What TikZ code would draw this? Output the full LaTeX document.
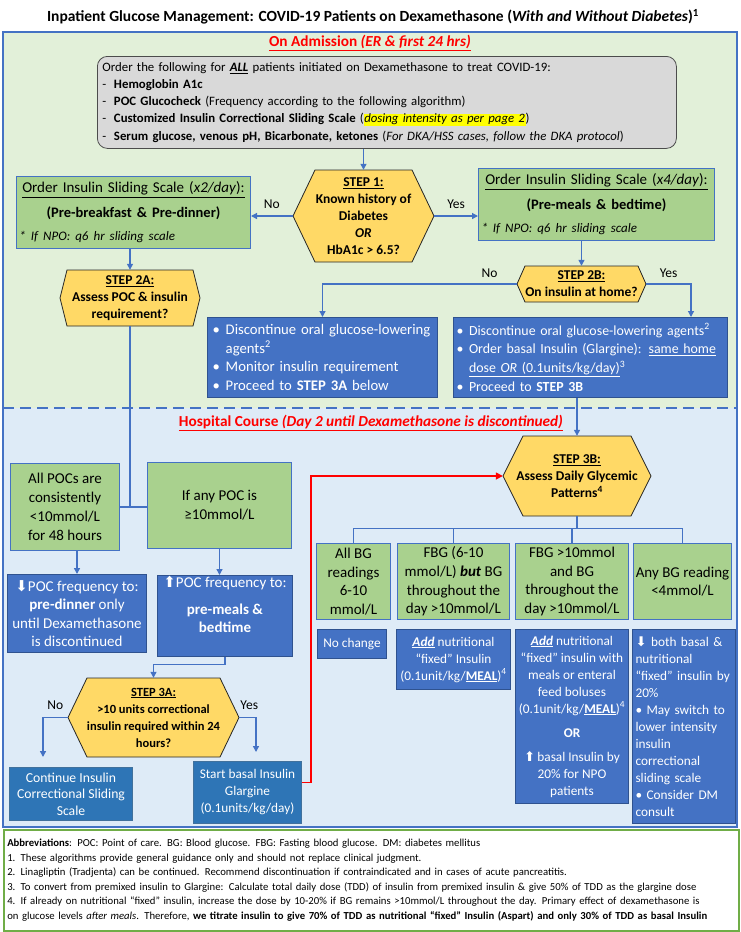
\documentclass[tikz,border=0pt]{standalone}
\usepackage{fontspec}
\setmainfont{Carlito}
\newfontfamily\symfont{DejaVu Sans}
\usetikzlibrary{arrows.meta}
\setlength{\fboxsep}{0.5pt}

\definecolor{edgeblue}{HTML}{4472C4}
\definecolor{admitgreen}{HTML}{E2F0D9}
\definecolor{coursebg}{HTML}{DEEBF7}
\definecolor{boxgreen}{HTML}{A9D18E}
\definecolor{stepyellow}{HTML}{FFD966}
\definecolor{ordergray}{HTML}{D9D9D9}
\definecolor{actionedge}{HTML}{2F528F}
\definecolor{steelblue}{HTML}{2E75B6}
\definecolor{steeledge}{HTML}{41719C}
\definecolor{notegreen}{HTML}{70AD47}
\definecolor{alertred}{HTML}{FF0000}
\definecolor{markyellow}{HTML}{FFFF00}

\tikzset{
  flow/.style={draw=edgeblue, line width=1.3pt, -{Triangle[length=6pt,width=6pt]}},
  link/.style={draw=edgeblue, line width=1.3pt},
  redflow/.style={draw=alertred, line width=1.6pt, -{Triangle[length=7pt,width=7pt]}},
  greenbox/.style={draw=edgeblue, fill=boxgreen, line width=1pt, inner sep=2pt, align=center},
  actionbox/.style={draw=actionedge, fill=edgeblue, text=white, line width=1pt, inner sep=3pt},
  steelbox/.style={draw=steeledge, fill=steelblue, text=white, line width=1pt, inner sep=2pt, align=center},
  orderbox/.style={draw=black!70, fill=ordergray, rounded corners=10pt, line width=0.8pt, align=left,
    inner xsep=5pt, inner ysep=3pt, font=\fontsize{12.8}{17.2}\selectfont},
  hexline/.style={draw=black!85, fill=stepyellow, line width=0.8pt},
  steptext/.style={align=center, inner sep=0pt, font=\fontsize{13.5}{17}\selectfont\bfseries},
  lbl/.style={font=\fontsize{13.5}{16}\selectfont},
  phase/.style={text=alertred, font=\fontsize{15.3}{18}\selectfont\bfseries},
  rowbox/.style={greenbox, anchor=north west, minimum height=76, inner ysep=0pt, font=\fontsize{15}{18.7}\selectfont},
  tipbox/.style={actionbox, anchor=north west, font=\fontsize{13.3}{17}\selectfont},
}

% hexagon step: [options], name, x, y, half width, half height, inset, text
\newcommand{\stephex}[8][]{%
  \draw[hexline] (#3-#5,#4) -- (#3-#5+#7,#4-#6) -- (#3+#5-#7,#4-#6) -- (#3+#5,#4)
    -- (#3+#5-#7,#4+#6) -- (#3-#5+#7,#4+#6) -- cycle;
  \node[steptext, minimum width=2*#5, minimum height=2*#6, #1] (#2) at (#3,#4) {#8};}
\newcommand{\bul}{\makebox[0.9em][l]{\textbullet}}

\begin{document}
\begin{tikzpicture}[x=1pt,y=-1pt]
\useasboundingbox (0,0) rectangle (741,932);
\fill[white] (0,0) rectangle (741,932);

% panels
\fill[admitgreen] (3,32) rectangle (737,408);
\fill[coursebg] (3,408) rectangle (737,827);
\draw[edgeblue, line width=2pt, dash pattern=on 11pt off 6pt] (3,408) -- (737,408);
\draw[edgeblue, line width=2pt] (3,32) rectangle (737,827);

\node[font=\fontsize{15.5}{18}\selectfont\bfseries] (title) at (373,17)
  {Inpatient Glucose Management: COVID-19 Patients on Dexamethasone (\textit{With and Without Diabetes})\textsuperscript{1}};
\node[phase] (admit) at (370,43) {\underline{On Admission \textit{(ER \& first 24 hrs)}}};

% admission
\node[orderbox, anchor=north west, text width=569, minimum height=92] (orders) at (97,56)
  {Order the following for \underline{\textbf{\textit{ALL}}} patients initiated on Dexamethasone to treat COVID-19:\\
   -\hspace{0.6em}\textbf{Hemoglobin A1c}\\
   -\hspace{0.6em}\textbf{POC Glucocheck} (Frequency according to the following algorithm)\\
   -\hspace{0.6em}\textbf{Customized Insulin Correctional Sliding Scale} (\colorbox{markyellow}{\textit{dosing intensity as per page 2}})\\
   -\hspace{0.6em}\textbf{Serum glucose, venous pH, Bicarbonate, ketones} (\textit{For DKA/HSS cases, follow the DKA protocol})};

\stephex{s1}{363.5}{216}{70.5}{46}{22}{\underline{STEP 1:}\\Known history of\\Diabetes\\\textit{OR}\\HbA1c > 6.5?}

\node[greenbox, anchor=north west, minimum width=234, minimum height=72, text width=228,
  font=\fontsize{15}{17}\selectfont] (lowscale) at (16,176)
  {\underline{Order Insulin Sliding Scale (\textit{x2/day}):}\\[8pt]
   {\fontsize{14.5}{17}\selectfont\textbf{(Pre-breakfast \& Pre-dinner)}}\\[6pt]
   \makebox[228pt][l]{\fontsize{13}{17}\selectfont\textit{* If NPO: q6 hr sliding scale}}};
\node[greenbox, anchor=north west, minimum width=236, minimum height=72, text width=230,
  font=\fontsize{15}{17}\selectfont] (highscale) at (478,168)
  {\underline{Order Insulin Sliding Scale (\textit{x4/day}):}\\[8pt]
   {\fontsize{14.5}{17}\selectfont\textbf{(Pre-meals \& bedtime)}}\\[6pt]
   \makebox[230pt][l]{\fontsize{13}{17}\selectfont\textit{* If NPO: q6 hr sliding scale}}};

\draw[flow] (orders.south -| s1.north) -- (s1.north);
\draw[flow] (s1.west) -- (s1.west -| lowscale.east) node[lbl, midway, above=3pt] {No};
\draw[flow] (s1.east) -- (s1.east -| highscale.west) node[lbl, midway, above=3pt] {Yes};

\stephex{s2a}{130}{298}{70}{28}{7}{\underline{STEP 2A:}\\Assess POC \& insulin\\requirement?}
\stephex{s2b}{581.5}{284}{64.5}{18}{8}{\underline{STEP 2B:}\\On insulin at home?}
\draw[flow] (lowscale.south -| s2a.north) -- (s2a.north);
\draw[flow] (highscale.south -| s2b.north) -- (s2b.north);

\node[actionbox, anchor=north west, text width=220, minimum height=80, align=left, inner xsep=5pt,
  font=\fontsize{14.7}{18.7}\selectfont] (homeno) at (207,317)
  {\bul Discontinue oral glucose-lowering\\
   \hspace*{0.9em}agents\textsuperscript{2}\\
   \bul Monitor insulin requirement\\
   \bul Proceed to \textbf{STEP 3A} below};
\node[actionbox, anchor=north west, text width=268, minimum height=80, align=left, inner xsep=3pt,
  font=\fontsize{13.9}{18.7}\selectfont] (homeyes) at (453,317)
  {\bul Discontinue oral glucose-lowering agents\textsuperscript{2}\\
   \bul Order basal Insulin (Glargine): \underline{same home}\\
   \hspace*{0.9em}\underline{dose \textit{OR} (0.1units/kg/day)}\textsuperscript{3}\\
   \bul Proceed to \textbf{STEP 3B}};

\draw[flow] (s2b.west) -| (homeno.north) node[lbl, pos=0.07, above=2pt] {No};
\draw[flow] (s2b.east) -| ([xshift=-37pt]homeyes.north east) node[lbl, pos=0.25, above=2pt] {Yes};

% hospital course
\node[phase] (course) at (371,423) {\underline{Hospital Course \textit{(Day 2 until Dexamethasone is discontinued)}}};

\stephex{s3b}{577}{476}{74}{40}{20}{\underline{STEP 3B:}\\Assess Daily Glycemic\\Patterns\textsuperscript{4}}
\draw[flow] (homeyes.south -| s3b.north) -- (s3b.north);

\node[greenbox, anchor=north west, minimum width=109, minimum height=87,
  font=\fontsize{15}{19}\selectfont] (allpoc) at (10,463) {All POCs are\\consistently\\<10mmol/L\\for 48 hours};
\node[greenbox, anchor=north west, minimum width=144, minimum height=86,
  font=\fontsize{15}{19}\selectfont] (anypoc) at (147,462) {If any POC is\\≥10mmol/L};
\draw[link] (allpoc.east) -- (allpoc.east -| anypoc.west);
\draw[link] (s2a.south) -- (s2a.south |- allpoc.east);

\node[actionbox, anchor=north west, minimum width=139, minimum height=78, align=center, inner sep=1pt,
  font=\fontsize{15}{18.5}\selectfont] (pocdown) at (7,574)
  {{\symfont ⬇}POC frequency to:\\\textbf{pre-dinner} only\\until Dexamethasone\\is discontinued};
\node[actionbox, anchor=north west, minimum width=135, minimum height=77, align=center, inner sep=1pt,
  font=\fontsize{15}{18.5}\selectfont] (pocup) at (157,575)
  {{\symfont ⬆}POC frequency to:\\[8pt]\textbf{pre-meals \&}\\\textbf{bedtime}\\[4pt]};
\draw[flow] (allpoc.south -| pocdown.north) -- (pocdown.north);
\draw[flow] (anypoc.south) -- (anypoc.south |- pocup.north);

\stephex[font=\fontsize{12.5}{17}\selectfont\bfseries]{s3a}{153.5}{717.5}{85.5}{39.5}{19}
  {\underline{STEP 3A:}\\>10 units correctional\\insulin required within 24\\hours?}
\draw[flow] (pocup.south) -- ++(0,8) -| (s3a.north);

\node[steelbox, anchor=north west, minimum width=123, minimum height=53,
  font=\fontsize{13.7}{16.7}\selectfont] (contins) at (9,767) {Continue Insulin\\Correctional Sliding\\Scale};
\node[steelbox, anchor=north west, minimum width=108, minimum height=62,
  font=\fontsize{13.3}{17}\selectfont] (basal) at (193,761) {Start basal Insulin\\Glargine\\(0.1units/kg/day)};
\draw[flow, shorten >=10pt] (s3a.west) -| ([xshift=34pt]contins.north west) node[lbl, pos=0.25, above=4pt] {No};
\draw[flow, shorten >=9pt] (s3a.east) -| ([xshift=63pt]basal.north west) node[lbl, pos=0.3, above=4pt] {Yes};
\draw[redflow] ([yshift=10pt]basal.east) -- ++(9,0) |- (s3b.west);

% glycemic patterns
\node[rowbox, minimum width=74] (allbg) at (316,543) {All BG\\readings\\6-10\\mmol/L};
\node[rowbox, minimum width=112] (fbglow) at (397,543) {FBG (6-10\\mmol/L) \textbf{\textit{but}} BG\\throughout the\\day >10mmol/L};
\node[rowbox, minimum width=113] (fbghigh) at (515,543) {FBG >10mmol\\and BG\\throughout the\\day >10mmol/L};
\node[rowbox, minimum width=98, inner xsep=1pt] (lowbg) at (633,543) {Any BG reading\\<4mmol/L};
\draw[link] (s3b.south) -- ++(0,12) coordinate (fork);
\draw[link] (allbg.north) |- (fork) -| (lowbg.north);
\draw[link] (fbglow.north) -- (fbglow.north |- fork);
\draw[link] (fbghigh.north) -- (fbghigh.north |- fork);

\node[tipbox, minimum width=69, minimum height=29, align=center] (nochange) at (317,629) {No change};
\node[tipbox, minimum width=114, minimum height=60, align=center] (addfix) at (396,629)
  {\underline{\textbf{\textit{Add}}} nutritional\\“fixed” Insulin\\(0.1unit/kg/\underline{\textbf{MEAL}})\textsuperscript{4}};
\node[tipbox, minimum width=113, minimum height=174, align=center, inner xsep=1pt] (addmeal) at (515,629)
  {\underline{\textbf{\textit{Add}}} nutritional\\“fixed” insulin with\\meals or enteral\\feed boluses\\
   (0.1unit/kg/\underline{\textbf{MEAL}})\textsuperscript{4}\\[7pt]\textbf{OR}\\[7pt]
   {\symfont ⬆}\,basal Insulin by\\20\% for NPO\\patients};
\node[tipbox, text width=97, minimum height=194, align=left] (lowact) at (632,629)
  {{\symfont ⬇}\ both basal \&\\nutritional\\“fixed” insulin by\\20\%\\\textbullet\ May switch to\\lower intensity\\insulin\\correctional\\sliding scale\\\textbullet\ Consider DM\\consult};

% notes
\node[draw=notegreen, line width=1.5pt, fill=white, anchor=north west, text width=728, minimum height=101,
  align=left, inner xsep=3.5pt, inner ysep=4pt, font=\fontsize{10.7}{14.5}\selectfont] (notes) at (3,829)
  {\textbf{Abbreviations}: POC: Point of care. BG: Blood glucose. FBG: Fasting blood glucose. DM: diabetes mellitus\\
   1. These algorithms provide general guidance only and should not replace clinical judgment.\\
   2. Linagliptin (Tradjenta) can be continued. Recommend discontinuation if contraindicated and in cases of acute pancreatitis.\\
   3. To convert from premixed insulin to Glargine: Calculate total daily dose (TDD) of insulin from premixed insulin \& give 50\% of TDD as the glargine dose\\
   4. If already on nutritional “fixed” insulin, increase the dose by 10-20\% if BG remains >10mmol/L throughout the day. Primary effect of dexamethasone is\\
   \mbox{on glucose levels \textit{after meals}. Therefore, \textbf{we titrate insulin to give 70\% of TDD as nutritional “fixed” Insulin (Aspart) and only 30\% of TDD as basal Insulin}}};
\end{tikzpicture}
\end{document}
